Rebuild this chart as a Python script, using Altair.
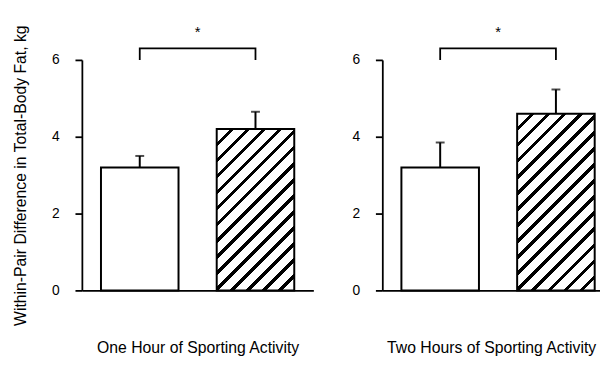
import altair as alt
import numpy as np
import pandas as pd

# ---- data ----
groups = ["One Hour of Sporting Activity", "Two Hours of Sporting Activity"]
bars = ["Open", "Hatched"]
means_one = [3.2, 4.2]
errors_one = [0.3, 0.45]
means_two = [3.2, 4.6]
errors_two = [0.65, 0.63]
bracket_bars = ["Open", "Open", "Hatched", "Hatched"]
bracket_levels = [6.0, 6.3, 6.3, 6.0]
star_level = [6.72]
y_ticks = [0, 2, 4, 6]
y_title = "Within-Pair Difference in Total-Body Fat, kg"

# ---- styling / layout ----
FONT = "Liberation Sans"
INK = "black"
H = 234
YMAX = 6
STEP = 117.5
PI = 0.33
BW = STEP * (1 - PI)
W_LEFT = 235
W_RIGHT = 221


def band_scale(width):
    po = (width / STEP - 2 + PI) / 2
    align = ((W_LEFT - STEP * (2 - PI)) / 2) / (width - STEP * (2 - PI))
    return alt.Scale(paddingInner=PI, paddingOuter=po, align=min(1.0, align))


def hatch_fill(bw, bh, period=11.5, lw=3.0):
    diag = (bw + bh) / np.sqrt(2)
    s = (bw + bh) / (bw ** 2 + bh ** 2)
    p = period / diag
    h = lw / 2 / diag
    stops = []
    c = 0.0
    while c - h < 1:
        a, b = max(0.0, c - h), min(1.0, c + h)
        stops += [(a, "white"), (a, "black"), (b, "black"), (b, "white")]
        c += p
    return alt.LinearGradient(
        gradient="linear", x1=0, y1=0, x2=float(s * bw), y2=float(s * bh),
        stops=[alt.GradientStop(offset=float(o), color=col) for o, col in stops],
    )


def panel(group, means, errors, width, with_title):
    df = pd.DataFrame({"bar": bars, "mean": means, "err": errors})
    df["top"] = df["mean"] + df["err"]
    br = pd.DataFrame({"bar": bracket_bars, "level": bracket_levels,
                       "order": list(range(len(bracket_bars)))})
    st = pd.DataFrame({"bar": [bars[0]], "level": star_level})

    yax = dict(values=y_ticks, tickSize=7, tickWidth=1.8, tickColor=INK,
               domainColor=INK, domainWidth=1.8, labelFont=FONT, labelFontSize=14,
               labelColor=INK, labelPadding=16, grid=False)
    if with_title:
        yax.update(title=y_title, titleFont=FONT, titleFontSize=16,
                   titleFontWeight="normal", titleColor=INK, titlePadding=23)
    else:
        yax["title"] = None
    yscale = alt.Scale(domain=[0, YMAX], nice=False)

    def yenc(field):
        return alt.Y(f"{field}:Q", scale=yscale, axis=alt.Axis(**yax))

    xenc = alt.X("bar:N", sort=bars, scale=band_scale(width),
                 axis=alt.Axis(title=group, labels=False, ticks=False, domainColor=INK,
                               domainWidth=1.8, titleFont=FONT, titleFontSize=16,
                               titleFontWeight="normal", titleColor=INK, titlePadding=50))

    base = alt.Chart(df)
    open_bar = base.transform_filter(alt.datum.bar == bars[0]).mark_bar(
        fill="white", stroke=INK, strokeWidth=2).encode(x=xenc, y=yenc("mean"))
    hb = means[1] * H / YMAX
    hatched_bar = base.transform_filter(alt.datum.bar == bars[1]).mark_bar(
        fill=hatch_fill(BW, hb), stroke=INK, strokeWidth=2).encode(x=xenc, y=yenc("mean"))
    err_rule = base.mark_rule(color=INK, strokeWidth=2).encode(
        x=xenc, y=yenc("mean"), y2="top:Q")
    err_cap = base.mark_tick(color=INK, orient="horizontal", size=9, thickness=2).encode(
        x=xenc, y=yenc("top"))
    bracket = alt.Chart(br).mark_line(color=INK, strokeWidth=1.8, strokeJoin="miter").encode(
        x=xenc, y=yenc("level"), order="order:Q")
    star = alt.Chart(st).mark_text(text="*", font=FONT, fontSize=15, color=INK,
                                   dx=STEP / 2, baseline="middle", align="center").encode(
        x=xenc, y=yenc("level"))
    return alt.layer(open_bar, hatched_bar, err_rule, err_cap, bracket, star).properties(
        width=width, height=H)


left = panel(groups[0], means_one, errors_one, W_LEFT, True)
right = panel(groups[1], means_two, errors_two, W_RIGHT, False)

chart = alt.hconcat(left, right, spacing=39).properties(
    padding={"left": 5, "top": 14, "right": 0, "bottom": 5},
    background="white",
).configure_view(strokeWidth=0)

chart.save("out.html", embed_options={"renderer": "svg", "actions": False})
